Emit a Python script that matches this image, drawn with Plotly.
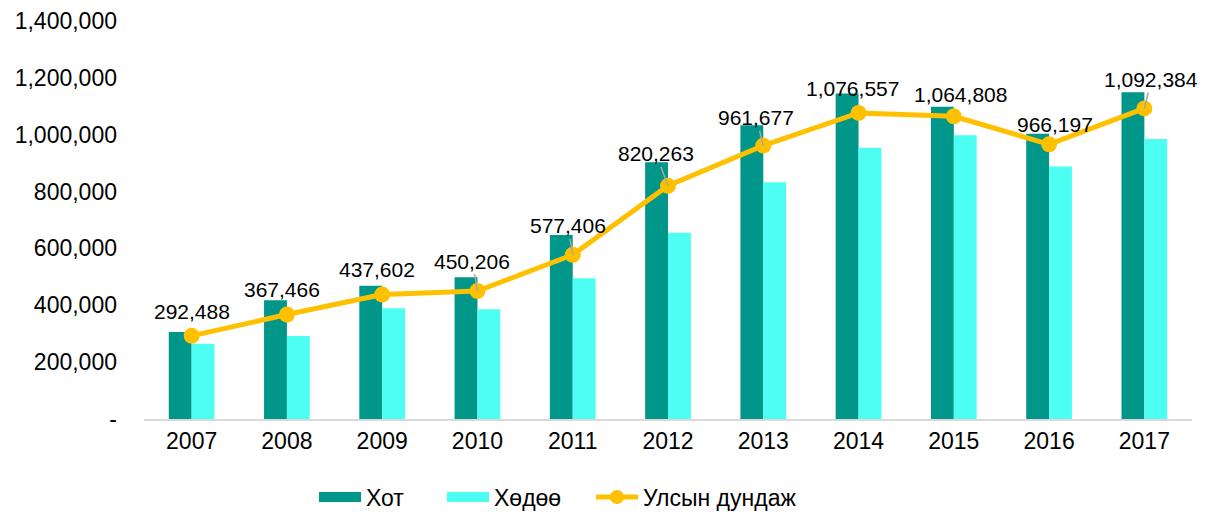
import plotly.graph_objects as go

years = ["2007", "2008", "2009", "2010", "2011", "2012", "2013", "2014", "2015", "2016", "2017"]
khot = [306000, 418000, 469000, 499000, 647000, 903000, 1033000, 1145000, 1098000, 1003000, 1149000]
khudoo = [265000, 292000, 390000, 386000, 495000, 655000, 833000, 954000, 998000, 888000, 985000]
national_avg = [292488, 367466, 437602, 450206, 577406, 820263, 961677, 1076557, 1064808, 966197, 1092384]

y_ticks = [0, 200000, 400000, 600000, 800000, 1000000, 1200000, 1400000]
y_tick_text = ["-", "200,000", "400,000", "600,000", "800,000", "1,000,000", "1,200,000", "1,400,000"]

# label placement (pixel offsets from each point) and which ones have a leader line
label_dx = [0, -5, -5, -5, -5, -12, -7, -6, 7, 6, 7]
label_dy = [-24, -25, -25, -30, -29, -32, -28, -24, -22, -20, -29]
leader = [False, False, False, True, True, True, True, False, False, False, True]

TEAL = "#00968A"
CYAN = "#4DFFF3"
GOLD = "#FFC000"
FONT = "Arial, Liberation Sans, sans-serif"

fig = go.Figure()

fig.add_trace(go.Bar(x=years, y=khot, name="Хот", marker=dict(color=TEAL, line=dict(width=0)),
                     showlegend=False))
fig.add_trace(go.Bar(x=years, y=khudoo, name="Хөдөө", marker=dict(color=CYAN, line=dict(width=0)),
                     showlegend=False))
fig.add_trace(go.Scatter(
    x=years, y=national_avg, name="Улсын дундаж",
    mode="lines+markers",
    line=dict(color=GOLD, width=5),
    marker=dict(color=GOLD, size=16),
    showlegend=False,
))

# value labels; on a category axis annotation x is the category index
for i, (v, dx, dy, ld) in enumerate(zip(national_avg, label_dx, label_dy, leader)):
    if ld:
        fig.add_annotation(x=i, y=v, text=f"{v:,}", showarrow=True,
                           ax=dx, ay=dy, arrowhead=0, arrowwidth=1.5,
                           arrowcolor="#A6A6A6", standoff=0,
                           font=dict(size=21, color="#000000"))
    else:
        fig.add_annotation(x=i, y=v, text=f"{v:,}", showarrow=False,
                           xshift=dx, yshift=-dy,
                           font=dict(size=21, color="#000000"))

# legend entries (wide rectangles for bars like the original), one legend each
fig.add_trace(go.Scatter(x=[None], y=[None], mode="lines", name="Хот",
                         line=dict(color=TEAL, width=13), legend="legend"))
fig.add_trace(go.Scatter(x=[None], y=[None], mode="lines", name="Хөдөө",
                         line=dict(color=CYAN, width=13), legend="legend2"))
fig.add_trace(go.Scatter(x=[None], y=[None], mode="lines+markers", name="Улсын дундаж",
                         line=dict(color=GOLD, width=5), marker=dict(color=GOLD, size=14),
                         legend="legend3"))

legend_style = dict(
    orientation="h", xanchor="left", xref="container",
    y=17 / 514, yanchor="middle", yref="container",
    font=dict(size=23), itemwidth=42, bgcolor="rgba(0,0,0,0)",
)

fig.update_layout(
    width=1208, height=514,
    margin=dict(l=144, r=16, t=21, b=95),
    barmode="group",
    bargap=0.52,
    bargroupgap=0,
    plot_bgcolor="#FFFFFF",
    paper_bgcolor="#FFFFFF",
    font=dict(family=FONT, size=23, color="#000000"),
    xaxis=dict(
        type="category", categoryorder="array", categoryarray=years,
        range=[-0.5, len(years) - 0.5],
        showline=True, linecolor="#D9D9D9", linewidth=2,
        showgrid=False, ticks="", tickfont=dict(size=23),
        ticklabelstandoff=0, automargin=False,
    ),
    yaxis=dict(
        range=[0, 1400000],
        tickvals=y_ticks, ticktext=y_tick_text,
        showgrid=False, showline=False, zeroline=False,
        tickfont=dict(size=23),
        ticklabelstandoff=26, automargin=False,
    ),
    legend=dict(x=314 / 1208, **legend_style),
    legend2=dict(x=442 / 1208, **legend_style),
    legend3=dict(x=591 / 1208, **legend_style),
)

fig.write_html("out.html", config={"displayModeBar": False},
               post_script="document.body.style.margin='0';")
